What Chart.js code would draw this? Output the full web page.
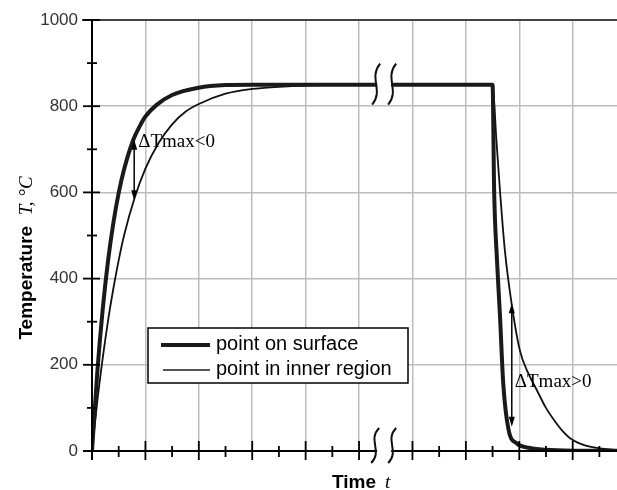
<!DOCTYPE html>
<html>
<head>
<meta charset="utf-8">
<script src="https://cdn.jsdelivr.net/npm/chart.js@4.4.0/dist/chart.umd.min.js"></script>
<style>
body{margin:0;background:#fff;}
</style>
</head>
<body>
<canvas id="line-chart" width="617" height="490"></canvas>
<script>
// time in grid units (axis is broken around 5.5), temperature in degC
var surfaceTime = [0, 0.1, 0.2, 0.3, 0.4, 0.5, 0.6, 0.77, 0.9, 1.0, 1.21, 1.5, 2.0, 2.5, 3.0, 7.5, 7.53, 7.58, 7.64, 7.70, 7.80, 7.95, 8.2, 8.7, 9.83];
var surfaceTemp = [0, 184, 328, 441, 529, 599, 653, 721, 755, 776, 803, 826, 843, 849, 850, 850, 602, 450, 311, 157, 49, 18, 7, 2, 0];
var innerTime = [0, 0.1, 0.2, 0.3, 0.4, 0.5, 0.6, 0.8, 1.0, 1.25, 1.5, 1.75, 2.0, 2.5, 3.0, 3.5, 4.0, 5.0, 7.5, 7.57, 7.64, 7.73, 7.86, 8.01, 8.17, 8.33, 8.5, 8.65, 8.8, 8.98, 9.23, 9.51, 9.83];
var innerTemp = [0, 116, 215, 302, 377, 443, 500, 588, 655, 715, 758, 787, 805, 829, 840, 845, 848, 850, 850, 725, 602, 466, 339, 234, 180, 141, 100, 72, 48, 27, 13, 6, 3];
var tempTicks = [0, 200, 400, 600, 800, 1000];
var seriesNames = ["point on surface", "point in inner region"];

var tMax = 9.83;
var tBreak = 5.47;

function toPoints(xs, ys){
	return xs.map(function(t, i){ return {x: t, y: ys[i]}; });
}

function arrow(ctx, x, y1, y2){
	ctx.beginPath();
	ctx.moveTo(x, y1 + 4);
	ctx.lineTo(x, y2 - 4);
	ctx.stroke();
	ctx.beginPath();
	ctx.moveTo(x, y1); ctx.lineTo(x - 3, y1 + 10); ctx.lineTo(x + 3, y1 + 10); ctx.closePath();
	ctx.fill();
	ctx.beginPath();
	ctx.moveTo(x, y2); ctx.lineTo(x - 3, y2 - 10); ctx.lineTo(x + 3, y2 - 10); ctx.closePath();
	ctx.fill();
}

function breakMark(ctx, cx, top, bottom){
	var h = bottom - top;
	ctx.beginPath();
	ctx.moveTo(cx + 4, top);
	ctx.bezierCurveTo(cx - 8, top + h * 0.35, cx + 8, top + h * 0.65, cx - 4, bottom);
	ctx.stroke();
}

var frame = {
	id: 'frame',
	afterDatasetsDraw: function(chart){
		var ctx = chart.ctx;
		var xs = chart.scales.x, ys = chart.scales.y;
		var a = chart.chartArea;
		ctx.save();

		// top border
		ctx.strokeStyle = '#444';
		ctx.lineWidth = 2;
		ctx.beginPath(); ctx.moveTo(82, a.top); ctx.lineTo(a.right, a.top); ctx.stroke();

		// axes
		ctx.strokeStyle = '#000';
		ctx.beginPath(); ctx.moveTo(a.left, a.top); ctx.lineTo(a.left, a.bottom + 9); ctx.stroke();
		ctx.beginPath(); ctx.moveTo(83, a.bottom); ctx.lineTo(a.right, a.bottom); ctx.stroke();

		// y ticks, crossing the axis
		ctx.lineWidth = 1.8;
		for (var v = 0; v <= 1000; v += 100){
			var y = ys.getPixelForValue(v);
			var major = v % 200 === 0;
			ctx.beginPath();
			ctx.moveTo(a.left - (major ? 9 : 5), y);
			ctx.lineTo(a.left + (major ? 8 : 5), y);
			ctx.stroke();
		}
		// x ticks
		for (var t = 0.5; t < tMax; t += 0.5){
			if (Math.abs(t - tBreak) < 0.3) continue;
			var x = xs.getPixelForValue(t);
			var maj = t % 1 === 0;
			ctx.beginPath();
			ctx.moveTo(x, a.bottom - (maj ? 10 : 5));
			ctx.lineTo(x, a.bottom + (maj ? 9 : 6));
			ctx.stroke();
		}

		// axis break
		var bx = xs.getPixelForValue(tBreak);
		var yTop = ys.getPixelForValue(850);
		ctx.fillStyle = '#fff';
		ctx.fillRect(bx - 7, yTop - 4, 14, 8);
		ctx.fillRect(bx - 7, a.bottom - 3, 14, 6);
		ctx.strokeStyle = '#111';
		ctx.lineWidth = 2;
		breakMark(ctx, bx - 8, yTop - 21, yTop + 20);
		breakMark(ctx, bx + 8, yTop - 21, yTop + 20);
		breakMark(ctx, bx - 9, a.bottom - 23, a.bottom + 12);
		breakMark(ctx, bx + 8, a.bottom - 23, a.bottom + 12);

		// delta T arrows
		ctx.strokeStyle = '#000';
		ctx.fillStyle = '#000';
		ctx.lineWidth = 1.5;
		arrow(ctx, xs.getPixelForValue(0.79), ys.getPixelForValue(722), ys.getPixelForValue(582));
		arrow(ctx, xs.getPixelForValue(7.86), ys.getPixelForValue(343), ys.getPixelForValue(56));
		ctx.font = '19px "Liberation Serif", "Times New Roman", serif';
		ctx.textBaseline = 'middle';
		ctx.textAlign = 'left';
		ctx.fillText('\u0394Tmax<0', xs.getPixelForValue(0.79) + 4, ys.getPixelForValue(718));
		ctx.fillText('\u0394Tmax>0', xs.getPixelForValue(7.86) + 3, ys.getPixelForValue(160));

		// legend box
		ctx.fillStyle = '#fff';
		ctx.fillRect(148, 328, 260, 55);
		ctx.strokeStyle = '#000';
		ctx.lineWidth = 1.5;
		ctx.strokeRect(148, 328, 260, 55);
		ctx.strokeStyle = '#1a1a1a';
		ctx.lineWidth = 4;
		ctx.beginPath(); ctx.moveTo(161, 345); ctx.lineTo(210, 345); ctx.stroke();
		ctx.lineWidth = 1.5;
		ctx.beginPath(); ctx.moveTo(163, 370); ctx.lineTo(210, 370); ctx.stroke();
		ctx.fillStyle = '#000';
		ctx.font = '20px "Liberation Sans", Arial, sans-serif';
		ctx.fillText(seriesNames[0], 216, 344);
		ctx.fillText(seriesNames[1], 216, 369);

		// axis titles
		ctx.textBaseline = 'alphabetic';
		var f1 = 'bold 19px "Liberation Sans", Arial, sans-serif';
		var f2 = 'italic 19px "Liberation Serif", "Times New Roman", serif';
		ctx.font = f1;
		var w1 = ctx.measureText('Temperature  ').width;
		ctx.font = f2;
		var w2 = ctx.measureText('T, \u00B0C').width;
		ctx.save();
		ctx.translate(32, 258);
		ctx.rotate(-Math.PI / 2);
		ctx.font = f1;
		ctx.fillText('Temperature', -(w1 + w2) / 2, 0);
		ctx.font = f2;
		ctx.fillText('T, \u00B0C', -(w1 + w2) / 2 + w1, 0);
		ctx.restore();

		ctx.font = f1;
		ctx.fillText('Time', 332, 488);
		ctx.font = f2;
		ctx.fillText('t', 385, 488);

		ctx.restore();
	}
};

new Chart(document.getElementById("line-chart"), {
	type: 'line',
	data: {
		datasets: [
			{
				label: seriesNames[0],
				data: toPoints(surfaceTime, surfaceTemp),
				borderColor: '#1a1a1a',
				borderWidth: 4,
				pointRadius: 0,
				cubicInterpolationMode: 'monotone'
			},
			{
				label: seriesNames[1],
				data: toPoints(innerTime, innerTemp),
				borderColor: '#111',
				borderWidth: 1.8,
				pointRadius: 0,
				cubicInterpolationMode: 'monotone'
			}
		]
	},
	options: {
		responsive: false,
		animation: false,
		layout: { padding: { top: 20, right: 0, left: 0, bottom: 0 } },
		plugins: { legend: { display: false }, tooltip: { enabled: false } },
		scales: {
			x: {
				type: 'linear',
				min: 0,
				max: tMax,
				ticks: { display: false, stepSize: 1 },
				border: { display: false },
				grid: {
					drawTicks: false,
					lineWidth: 1.5,
					color: function(c){
						var v = c.tick ? c.tick.value : 0;
						return (v > 0 && v % 1 === 0) ? '#bdbdbd' : 'rgba(0,0,0,0)';
					}
				},
				afterFit: function(scale){ scale.height = 39; scale.paddingLeft = 0; scale.paddingRight = 0; }
			},
			y: {
				min: 0,
				max: 1000,
				afterBuildTicks: function(scale){
					scale.ticks = tempTicks.map(function(v){ return {value: v}; });
				},
				ticks: {
					padding: 14,
					color: '#333',
					font: { family: '"Liberation Sans Narrow", "Liberation Sans", Arial', size: 17 },
					callback: function(v){ return String(v); }
				},
				border: { display: false },
				grid: {
					drawTicks: false,
					lineWidth: 1.5,
					color: function(c){
						var v = c.tick ? c.tick.value : 0;
						return (v > 0 && v < 1000) ? '#bdbdbd' : 'rgba(0,0,0,0)';
					}
				},
				afterFit: function(scale){ scale.width = 92; scale.paddingTop = 0; scale.paddingBottom = 0; }
			}
		}
	},
	plugins: [frame]
});
</script>
</body>
</html>
